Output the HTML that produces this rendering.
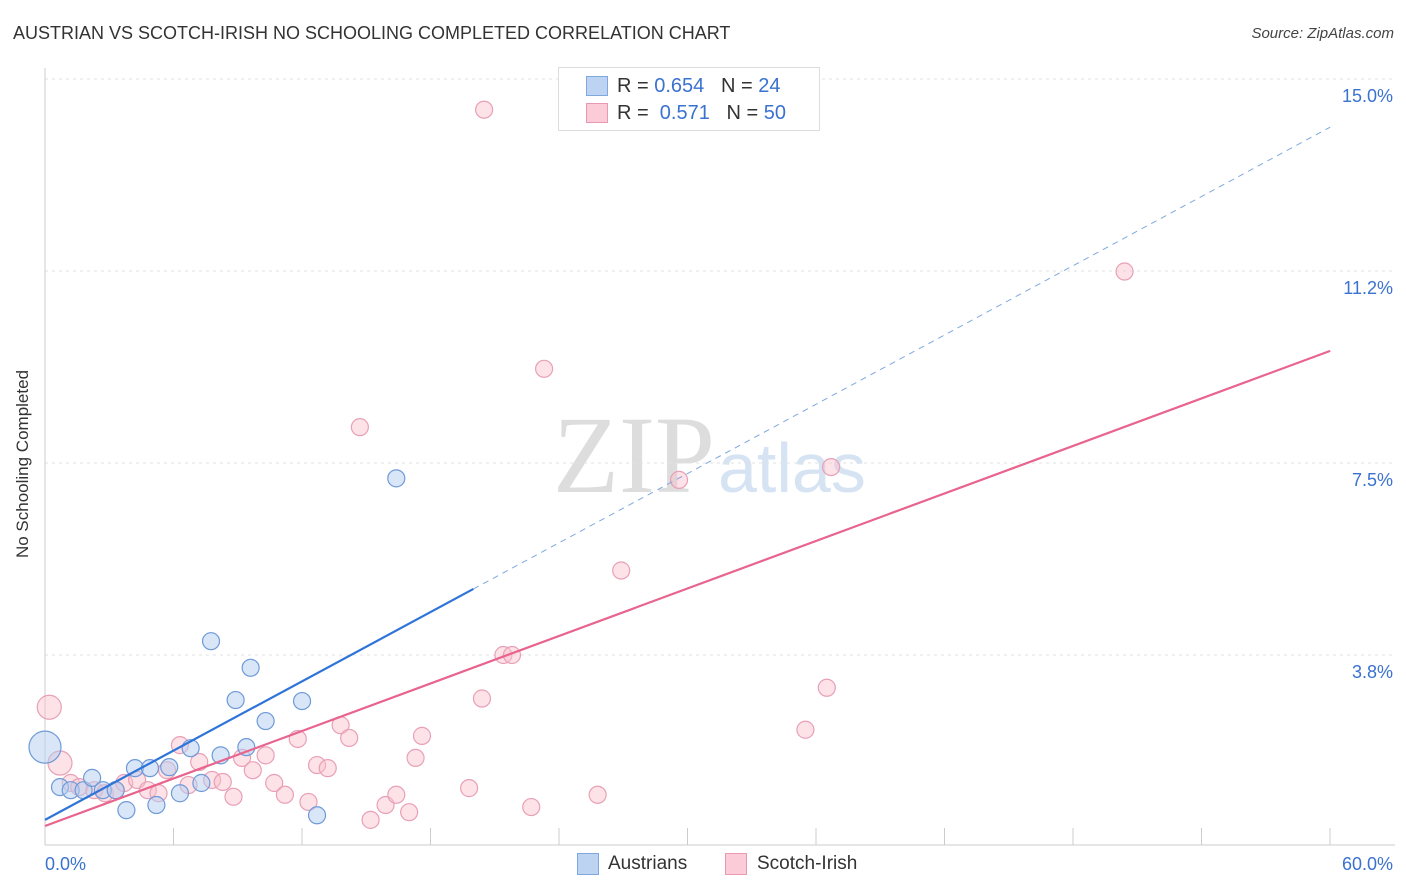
<!DOCTYPE html>
<html><head><meta charset="utf-8"><style>
body{margin:0;background:#fff;font-family:"Liberation Sans",sans-serif;}
#wrap{position:relative;width:1406px;height:892px;overflow:hidden}
.t{position:absolute;white-space:nowrap}
</style></head><body><div id="wrap">
<div class="t" style="left:13px;top:23px;font-size:18px;color:#333">AUSTRIAN VS SCOTCH-IRISH NO SCHOOLING COMPLETED CORRELATION CHART</div>
<div class="t" style="right:12px;top:25px;font-size:15px;color:#444;font-style:italic">Source: ZipAtlas.com</div>
<svg id="svg" width="1406" height="892" style="position:absolute;left:0;top:0">
<text x="20" y="456" transform="rotate(-90 28 456)" font-size="17" fill="#333" text-anchor="middle">No Schooling Completed</text>
<text x="553" y="492" font-size="110" font-family="Liberation Serif" fill="#ddd" textLength="162" lengthAdjust="spacingAndGlyphs">ZIP</text>
<text x="718" y="492" font-size="70" fill="#d5e3f3">atlas</text>
</svg>
<div style="position:absolute;left:558px;top:67px;width:260px;height:62px;border:1px solid #ddd;background:#fff">
 <div style="position:absolute;left:27px;top:8px;width:20px;height:18px;background:#bcd4f2;border:1px solid #7fa8e0"></div>
 <div class="t" style="left:58px;top:7px;font-size:20px;color:#333">R = <span style="color:#3a72d0">0.654</span>&nbsp;&nbsp;&nbsp;N = <span style="color:#3a72d0">24</span></div>
 <div style="position:absolute;left:27px;top:35px;width:20px;height:18px;background:#fccbd8;border:1px solid #e899b0"></div>
 <div class="t" style="left:58px;top:34px;font-size:20px;color:#333">R = &nbsp;<span style="color:#3a72d0">0.571</span>&nbsp;&nbsp;&nbsp;N = <span style="color:#3a72d0">50</span></div>
</div>
<div>
 <div style="position:absolute;left:577px;top:853px;width:20px;height:20px;background:#bcd4f2;border:1px solid #7fa8e0"></div>
 <div class="t" style="left:608px;top:853px;font-size:19px;color:#333">Austrians</div>
 <div style="position:absolute;left:725px;top:853px;width:20px;height:20px;background:#fccbd8;border:1px solid #e899b0"></div>
 <div class="t" style="left:757px;top:853px;font-size:19px;color:#333">Scotch-Irish</div>
</div>
</div>
<script>
const yTicks=[3.75,7.5,11.25,15];
const yTickLabels=["3.8%","7.5%","11.2%","15.0%"];
const xTickLabels=["0.0%","60.0%"];
const ausX=[0,0.7,1.2,1.8,2.2,2.7,3.3,3.8,4.2,4.9,5.2,5.8,6.3,6.8,7.3,7.75,8.2,8.9,9.4,9.6,10.3,12.0,12.7,16.4];
const ausY=[1.95,1.17,1.11,1.11,1.35,1.11,1.11,0.72,1.54,1.54,0.82,1.56,1.05,1.93,1.25,4.02,1.79,2.87,1.95,3.5,2.46,2.85,0.62,7.2];
const ausR=[16,8.5,8.5,8.5,8.5,8.5,8.5,8.5,8.5,8.5,8.5,8.5,8.5,8.5,8.5,8.5,8.5,8.5,8.5,8.5,8.5,8.5,8.5,8.5];
const siX=[0.2,0.7,1.2,1.6,2.3,2.8,3.3,3.7,4.3,4.8,5.3,5.7,6.3,6.7,7.2,7.8,8.3,8.8,9.2,9.7,10.3,10.7,11.2,11.8,12.3,12.7,13.2,13.8,14.2,15.2,15.9,16.4,17.0,17.3,17.6,19.8,20.4,20.5,21.4,21.8,22.7,23.3,25.8,26.9,29.6,35.5,36.5,36.7,14.7,50.4];
const siY=[2.73,1.64,1.25,1.17,1.11,1.05,1.11,1.25,1.31,1.11,1.05,1.5,1.99,1.21,1.66,1.31,1.27,0.98,1.74,1.5,1.79,1.25,1.02,2.11,0.88,1.6,1.54,2.38,2.13,0.53,0.82,1.02,0.68,1.74,2.17,1.15,2.9,14.4,3.75,3.75,0.78,9.34,1.02,5.4,7.17,2.29,3.11,7.42,8.2,11.24];
const siR=[12,12,8.5,8.5,8.5,8.5,8.5,8.5,8.5,8.5,8.5,8.5,8.5,8.5,8.5,8.5,8.5,8.5,8.5,8.5,8.5,8.5,8.5,8.5,8.5,8.5,8.5,8.5,8.5,8.5,8.5,8.5,8.5,8.5,8.5,8.5,8.5,8.5,8.5,8.5,8.5,8.5,8.5,8.5,8.5,8.5,8.5,8.5,8.5,8.5];
const ausLine=[0.53,14.06], siLine=[0.41,9.69], ausSolidEnd=20;
const X=v=>45+v*21.42, Y=v=>847-v*51.2;
const svg=document.getElementById('svg'),NS='http://www.w3.org/2000/svg';
function mk(tag,attrs){const e=document.createElementNS(NS,tag);for(const k in attrs)e.setAttribute(k,attrs[k]);svg.appendChild(e);return e;}
yTicks.forEach((v,i)=>{
 const g=mk('line',{x1:45,x2:1395,y1:Y(v),y2:Y(v),stroke:'#e2e2e2','stroke-dasharray':'3,4'});
 
 
 const t=mk('text',{x:1393,y:Y(v)+23,'text-anchor':'end','font-size':18,fill:'#3a72d0'});t.textContent=yTickLabels[i];
 
 
});
const ax=mk('line',{x1:45,x2:1395,y1:845,y2:845,stroke:'#ccc'});


const ay=mk('line',{x1:45,x2:45,y1:68,y2:845,stroke:'#ccc'});


for(let i=1;i<=10;i++){const x=45+i*128.5;const tk=mk('line',{x1:x,x2:x,y1:828,y2:845,stroke:'#ccc'});
 
 }
[[0,'start',45],[1,'end',1393]].forEach(([i,a,x])=>{const t=mk('text',{x:x,y:870,'text-anchor':a,'font-size':18,fill:'#3a72d0'});t.textContent=xTickLabels[i];
 
 });
function pts(xs,ys,rs,fill,stroke,name){xs.forEach((x,i)=>{const c=mk('circle',{cx:X(x),cy:Y(ys[i]),r:rs[i],fill:fill,stroke:stroke,'stroke-width':1.2});
 
 });}
pts(siX,siY,siR,'rgba(250,190,205,0.45)','#e8a0b6','scotch-irish-point');
pts(ausX,ausY,ausR,'rgba(180,205,240,0.5)','#6f9ad8','austrian-point');
const ay2=x=>ausLine[0]+(ausLine[1]-ausLine[0])*x/60;
const l1=mk('line',{x1:X(0),y1:Y(ay2(0)),x2:X(ausSolidEnd),y2:Y(ay2(ausSolidEnd)),stroke:'#2f74d8','stroke-width':2.2});


const l2=mk('line',{x1:X(ausSolidEnd),y1:Y(ay2(ausSolidEnd)),x2:X(60),y2:Y(ay2(60)),stroke:'#7fa8e0','stroke-width':1,'stroke-dasharray':'6,5'});


const l3=mk('line',{x1:X(0),y1:Y(siLine[0]),x2:X(60),y2:Y(siLine[1]),stroke:'#e8648e','stroke-width':2.2});


</script></body></html>
